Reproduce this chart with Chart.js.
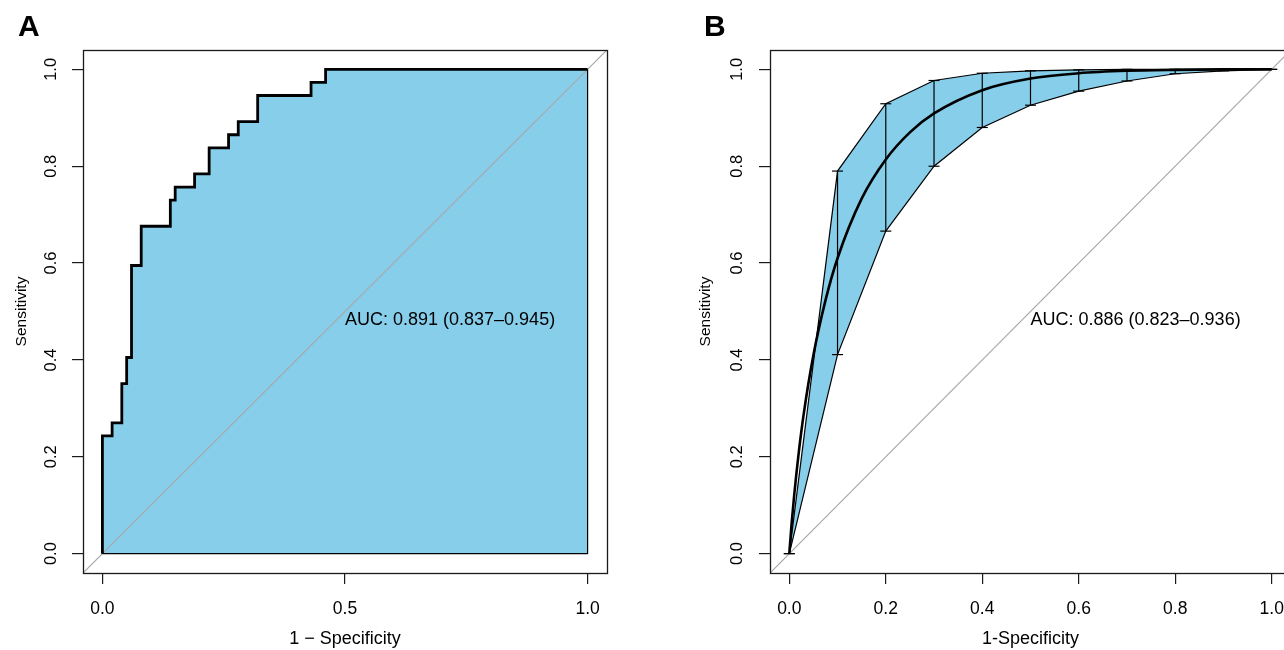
<!DOCTYPE html>
<html lang="en">
<head>
<meta charset="UTF-8">
<title>ROC curves</title>
<script src="https://cdn.jsdelivr.net/npm/chart.js"></script>
<style>
  body { margin: 0; width: 1284px; height: 650px; overflow: hidden; background: #fff; position: relative; }
  canvas { position: absolute; top: 0; }
  #rocA { left: 0; }
  #rocB { left: 642px; }
</style>
</head>
<body>
<canvas id="rocA" width="642" height="650"></canvas>
<canvas id="rocB" width="700" height="650"></canvas>
<script>
// Panel A - empirical ROC, corner points (1 - specificity, sensitivity)
const fprA = [0, 0, 0.02, 0.04, 0.05, 0.06, 0.08, 0.14, 0.15, 0.19, 0.22, 0.26, 0.28, 0.32, 0.43, 0.46, 1];
const tprA = [0, 0.243, 0.270, 0.351, 0.405, 0.595, 0.676, 0.730, 0.757, 0.784, 0.838, 0.865, 0.892, 0.946, 0.973, 1, 1];
const xTicksA = [0, 0.5, 1];
const aucTextA = "AUC: 0.891 (0.837\u20130.945)";

// Panel B - smoothed ROC with confidence band
const bandX = [0, 0.1, 0.2, 0.3, 0.4, 0.5, 0.6, 0.7, 0.8, 0.9, 1];
const bandLow = [0, 0.411, 0.666, 0.800, 0.880, 0.926, 0.955, 0.976, 0.991, 0.997, 1];
const bandHigh = [0, 0.790, 0.929, 0.977, 0.992, 0.997, 0.999, 1, 1, 1, 1];
const curveX = [0, 0.002, 0.005, 0.01, 0.02, 0.03, 0.05, 0.075, 0.1, 0.15, 0.2, 0.25, 0.3, 0.4, 0.5, 0.6, 0.7, 0.8, 0.9, 1];
const curveY = [0, 0.026, 0.064, 0.119, 0.212, 0.289, 0.410, 0.523, 0.610, 0.733, 0.814, 0.870, 0.909, 0.957, 0.981, 0.992, 0.997, 0.999, 1, 1];
const xTicksB = [0, 0.2, 0.4, 0.6, 0.8, 1];
const aucTextB = "AUC: 0.886 (0.823\u20130.936)";

const yTicks = [0, 0.2, 0.4, 0.6, 0.8, 1];
const diag = [-0.04, 1.04];

const FONT = '"Liberation Sans", Arial, sans-serif';
const SKY = "#87CEEB";
const GREY = "#A8A8A8";

function pts(xs, ys) {
    return xs.map((x, i) => ({ x: x, y: ys[i] }));
}

// box, rotated y labels, panel letter and AUC text
const framePlugin = {
    id: "frame",
    afterDatasetsDraw(chart) {
        const a = chart.chartArea;
        const ctx = chart.ctx;
        ctx.save();
        ctx.strokeStyle = "#1a1a1a";
        ctx.lineWidth = 1.3;
        ctx.strokeRect(Math.round(a.left) + 0.5, Math.round(a.top) + 0.5,
            Math.round(a.right - a.left), Math.round(a.bottom - a.top));
        ctx.restore();
    },
    afterDraw(chart, args, opts) {
        const ctx = chart.ctx;
        const ys = chart.scales.y;
        const xs = chart.scales.x;
        ctx.save();
        ctx.fillStyle = "#000";
        ctx.font = "16.5px " + FONT;
        ctx.textAlign = "center";
        ctx.textBaseline = "middle";
        ys.ticks.forEach(t => {
            ctx.save();
            ctx.translate(opts.yLabelX, ys.getPixelForValue(t.value));
            ctx.rotate(-Math.PI / 2);
            ctx.fillText(t.value.toFixed(1), 0, 0);
            ctx.restore();
        });
        ctx.font = "18px " + FONT;
        ctx.textAlign = "left";
        ctx.fillText(opts.auc, xs.getPixelForValue(0.5), ys.getPixelForValue(0.482));
        ctx.font = "bold 30px " + FONT;
        ctx.textBaseline = "alphabetic";
        ctx.fillText(opts.letter, opts.letterX, 36);
        ctx.restore();
    }
};

function axes(xTicks, yWidth, xTitle, yTitlePad) {
    return {
        x: {
            type: "linear",
            min: -0.04,
            max: 1.04,
            afterBuildTicks: s => { s.ticks = xTicks.map(v => ({ value: v })); },
            afterFit: s => { s.height = 77; },
            grid: { drawOnChartArea: false, drawTicks: true, tickLength: 11, color: "#1a1a1a", lineWidth: 1.2 },
            border: { display: false },
            ticks: {
                color: "#000",
                font: { family: FONT, size: 17.5 },
                padding: 15,
                maxRotation: 0,
                callback: v => v.toFixed(1)
            },
            title: { display: true, text: xTitle, color: "#000", font: { family: FONT, size: 18 }, padding: { top: 0, bottom: 0 } }
        },
        y: {
            type: "linear",
            min: -0.04,
            max: 1.04,
            afterBuildTicks: s => { s.ticks = yTicks.map(v => ({ value: v })); },
            afterFit: s => { s.width = yWidth; },
            grid: { drawOnChartArea: false, drawTicks: true, tickLength: 11, color: "#1a1a1a", lineWidth: 1.2 },
            border: { display: false },
            ticks: { display: false },
            title: { display: true, text: "Sensitivity", color: "#000", font: { family: FONT, size: 15.5 }, padding: { top: yTitlePad, bottom: 0 } }
        }
    };
}

const common = {
    responsive: false,
    animation: false,
    devicePixelRatio: 1,
    events: [],
    elements: { point: { radius: 0 }, line: { tension: 0 } },
    plugins: {
        legend: { display: false },
        tooltip: { enabled: false },
        filler: { drawTime: "beforeDatasetsDraw" }
    }
};

// ---- Panel A ----
new Chart(document.getElementById("rocA"), {
    type: "line",
    data: {
        datasets: [
            {
                data: pts(diag, diag),
                borderColor: GREY,
                borderWidth: 1.2,
                fill: false,
                order: 4
            },
            {
                data: [{ x: 0, y: 0 }, { x: 1, y: 0 }, { x: 1, y: 1 }],
                borderColor: "#000",
                borderWidth: 1.2,
                fill: false,
                order: 3
            },
            {
                data: pts(fprA, tprA),
                stepped: true,
                borderColor: "#000",
                borderWidth: 2.8,
                backgroundColor: SKY,
                fill: "origin",
                order: 1
            }
        ]
    },
    options: Object.assign({}, common, {
        layout: { padding: { top: 50, right: 35, left: 0, bottom: 0 } },
        scales: axes(xTicksA, 83, "1 \u2212 Specificity", 12),
        plugins: Object.assign({}, common.plugins, {
            frame: { yLabelX: 51, auc: aucTextA, letter: "A", letterX: 18 }
        })
    }),
    plugins: [framePlugin]
});

// ---- Panel B ----
const errBars = [];
bandX.forEach((x, i) => {
    errBars.push({ x: x, y: bandLow[i] }, { x: x, y: bandHigh[i] }, { x: x, y: null });
});

new Chart(document.getElementById("rocB"), {
    type: "line",
    data: {
        datasets: [
            {
                data: pts(bandX, bandLow),
                borderColor: "#000",
                borderWidth: 1.2,
                fill: false,
                order: 6
            },
            {
                data: pts(bandX, bandHigh),
                borderColor: "#000",
                borderWidth: 1.2,
                backgroundColor: SKY,
                fill: 0,
                order: 5
            },
            {
                data: pts(diag, diag),
                borderColor: GREY,
                borderWidth: 1.2,
                fill: false,
                order: 7
            },
            {
                data: errBars,
                borderColor: "#000",
                borderWidth: 1.2,
                spanGaps: false,
                pointStyle: "line",
                pointRadius: 5.5,
                pointBorderWidth: 1.2,
                pointBorderColor: "#000",
                fill: false,
                order: 3
            },
            {
                data: pts(curveX, curveY),
                borderColor: "#000",
                borderWidth: 2.6,
                cubicInterpolationMode: "monotone",
                fill: false,
                order: 2
            }
        ]
    },
    options: Object.assign({}, common, {
        layout: { padding: { top: 50, right: 51, left: 0, bottom: 0 } },
        scales: axes(xTicksB, 128, "1-Specificity", 54),
        plugins: Object.assign({}, common.plugins, {
            frame: { yLabelX: 95, auc: aucTextB, letter: "B", letterX: 62 }
        })
    }),
    plugins: [framePlugin]
});
</script>
</body>
</html>
